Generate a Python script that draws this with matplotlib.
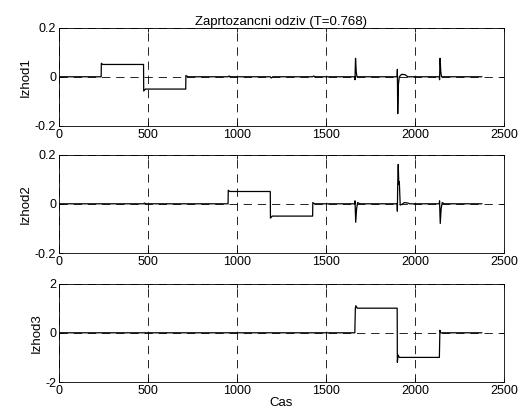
import matplotlib.pyplot as plt
import matplotlib

matplotlib.rcParams["font.family"] = ["Liberation Sans", "DejaVu Sans"]
matplotlib.rcParams["font.size"] = 9

# closed-loop response, breakpoints
t1 = [0, 237, 238, 245, 475, 476, 485, 712, 713, 725, 950, 955, 965, 1187, 1192, 1202,
      1425, 1430, 1440, 1662, 1663, 1666, 1670, 1674, 1900, 1901, 1903, 1907, 1912,
      1925, 1945, 1960, 2137, 2138, 2141, 2145, 2149, 2375]
y1 = [0, 0, 0.055, 0.05, 0.05, -0.058, -0.05, -0.05, 0.005, 0, 0, 0.003, 0, 0, -0.005, 0,
      0, 0.003, 0, 0, -0.012, 0.075, 0.02, 0, 0, 0.03, -0.15, -0.03, 0,
      0.01, 0.008, 0, 0, -0.012, 0.075, 0.02, 0, 0]

t2 = [0, 475, 480, 490, 950, 951, 960, 1187, 1188, 1198, 1425, 1426, 1436, 1662, 1663,
      1667, 1672, 1678, 1690, 1900, 1901, 1903, 1906, 1909, 1912, 1917, 1925, 1940,
      1960, 1970, 2137, 2138, 2142, 2147, 2153, 2165, 2375]
y2 = [0, 0, 0.003, 0, 0, 0.055, 0.05, 0.05, -0.058, -0.05, -0.05, 0.005, 0, 0, 0.012,
      -0.075, -0.02, 0.005, 0, 0, -0.03, 0.08, 0.16, 0.08, 0.09, -0.005, -0.003, 0.005,
      0.003, 0, 0, 0.012, -0.08, -0.02, 0.005, 0, 0]

t3 = [0, 1662, 1665, 1668, 1675, 1900, 1901, 1905, 1912, 2137, 2140, 2145, 2375]
y3 = [0, 0, 1.0, 1.1, 1.0, 1.0, -1.2, -0.9, -1.0, -1.0, 0.1, 0, 0]

series = [(t1, y1), (t2, y2), (t3, y3)]
ylabels = ["Izhod1", "Izhod2", "Izhod3"]
yticks = [[-0.2, 0, 0.2], [-0.2, 0, 0.2], [-2, 0, 2]]
ytick_labels = [["-0.2", "0", "0.2"], ["-0.2", "0", "0.2"], ["-2", "0", "2"]]
xticks = [0, 500, 1000, 1500, 2000, 2500]

fig = plt.figure(figsize=(5.29, 4.18), dpi=100)
bottoms = [0.6986, 0.3947, 0.0861]
for i, (t, y) in enumerate(series):
    ax = fig.add_axes([0.1115, bottoms[i], 0.8412, 0.2355])
    ax.plot(t, y, color="black", lw=0.9)
    ax.set_xlim(0, 2500)
    ax.set_ylim(yticks[i][0], yticks[i][-1])
    ax.set_xticks(xticks)
    ax.set_xticklabels([str(x) for x in xticks])
    ax.set_yticks(yticks[i])
    ax.set_yticklabels(ytick_labels[i])
    ax.grid(True, color="black", linestyle=(0, (10, 7)), lw=0.6)
    ax.tick_params(direction="in", top=True, right=True, length=3, width=0.6, pad=2,
                   labelsize=9)
    for s in ax.spines.values():
        s.set_linewidth(0.6)
    ax.set_ylabel(ylabels[i], labelpad=2, fontsize=9.5)
    if i == 0:
        ax.set_title("Zaprtozancni odziv (T=0.768)", fontsize=9.5, pad=2)
    if i == 2:
        ax.set_xlabel("Cas", labelpad=0, fontsize=9.5)

fig.savefig("out.png", dpi=100)
